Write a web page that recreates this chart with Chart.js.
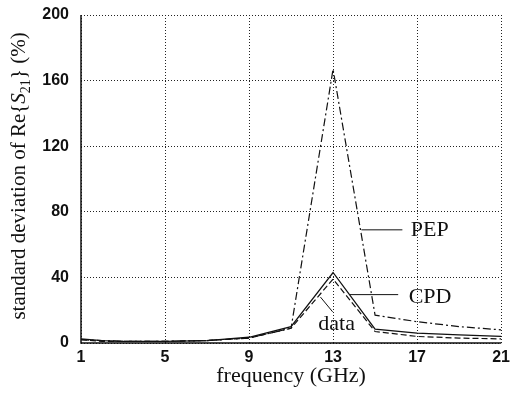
<!DOCTYPE html>
<html>
<head>
<meta charset="utf-8">
<script src="https://cdn.jsdelivr.net/npm/chart.js@4"></script>
<style>
  html, body { margin: 0; padding: 0; background: #fff; }
  #wrap { width: 515px; height: 393px; }
</style>
</head>
<body>
<div id="wrap"><canvas id="myChart" width="515" height="393"></canvas></div>
<script>
// frequency points (GHz) and curves
let freqs = [1, 2, 3, 5, 7, 9, 11, 13, 15, 17, 19, 21];
let pepValues = [2, 1.5, 1, 1, 1.5, 3, 9, 167, 17, 13, 10, 8];
let cpdValues = [2.5, 1.5, 1, 1, 1.5, 3.5, 10, 43, 8.5, 6, 5, 4];
let dataValues = [2, 1, 1, 1, 1.5, 3, 9, 39, 7, 4, 3, 2.5];

let xTicks = [1, 5, 9, 13, 17, 21];
let yTicks = [0, 40, 80, 120, 160, 200];

// curve labels with leader lines, in data units
let labels = [
    { text: 'PEP', at: [16.7, 65], from: [14.35, 69], to: [16.3, 69] },
    { text: 'CPD', at: [16.6, 24.5], from: [13.8, 29.5], to: [16.1, 29.5] },
    { text: 'data', at: [12.3, 8], from: [12.4, 28], to: [12.98, 19] }
];

function toPoints(values) {
    return freqs.map((f, i) => ({ x: f, y: values[i] }));
}

const serif = '"Liberation Serif", "Times New Roman", serif';
const sans = '"Liberation Sans", Arial, sans-serif';

let labelPlugin = {
    id: 'curveLabels',
    afterDraw(chart) {
        let ctx = chart.ctx;
        let xs = chart.scales.x, ys = chart.scales.y;
        let ca = chart.chartArea;
        ctx.save();
        ctx.strokeStyle = '#111';
        ctx.fillStyle = '#111';

        // solid left and bottom axis lines
        ctx.lineWidth = 1.5;
        ctx.beginPath();
        ctx.moveTo(ca.left, ca.top);
        ctx.lineTo(ca.left, ca.bottom);
        ctx.lineTo(ca.right, ca.bottom);
        ctx.stroke();

        ctx.lineWidth = 1;
        ctx.font = '22px ' + serif;
        ctx.textBaseline = 'alphabetic';
        labels.forEach(l => {
            ctx.beginPath();
            ctx.moveTo(xs.getPixelForValue(l.from[0]), ys.getPixelForValue(l.from[1]));
            ctx.lineTo(xs.getPixelForValue(l.to[0]), ys.getPixelForValue(l.to[1]));
            ctx.stroke();
            ctx.fillText(l.text, xs.getPixelForValue(l.at[0]), ys.getPixelForValue(l.at[1]));
        });

        // y axis title with italic S and subscript 21
        ctx.translate(25, (ca.top + ca.bottom) / 2 - 3);
        ctx.rotate(-Math.PI / 2);
        let parts = [
            { t: 'standard deviation of Re{', f: '21px ' + serif, dy: 0 },
            { t: 'S', f: 'italic 21px ' + serif, dy: 0 },
            { t: '21', f: '14px ' + serif, dy: 5 },
            { t: '} (%)', f: '21px ' + serif, dy: 0 }
        ];
        let total = 0;
        parts.forEach(p => { ctx.font = p.f; total += ctx.measureText(p.t).width; });
        let x = -total / 2;
        parts.forEach(p => {
            ctx.font = p.f;
            ctx.fillText(p.t, x, p.dy);
            x += ctx.measureText(p.t).width;
        });
        ctx.restore();
    }
};

let gridStyle = {
    color: '#222',
    lineWidth: 1,
    drawTicks: false
};

let ctx = document.getElementById('myChart').getContext('2d');
let myChart = new Chart(ctx, {
    type: 'line',
    data: {
        datasets: [
            {
                label: 'PEP',
                data: toPoints(pepValues),
                borderColor: '#111',
                borderWidth: 1.2,
                borderDash: [8, 3, 2, 3]
            },
            {
                label: 'CPD',
                data: toPoints(cpdValues),
                borderColor: '#111',
                borderWidth: 1.3
            },
            {
                label: 'data',
                data: toPoints(dataValues),
                borderColor: '#111',
                borderWidth: 1.2,
                borderDash: [6, 3]
            }
        ]
    },
    options: {
        responsive: false,
        animation: false,
        layout: { padding: { left: 0, right: 10, top: 15, bottom: 0 } },
        elements: { point: { radius: 0 }, line: { tension: 0 } },
        plugins: {
            legend: { display: false },
            tooltip: { enabled: false }
        },
        scales: {
            x: {
                type: 'linear',
                min: 1,
                max: 21,
                afterBuildTicks: axis => { axis.ticks = xTicks.map(v => ({ value: v })); },
                afterFit: axis => { axis.height = 50; },
                grid: gridStyle,
                border: { display: false, dash: [1, 2] },
                ticks: {
                    color: '#111',
                    padding: 5,
                    maxRotation: 0,
                    font: { family: sans, size: 16, weight: 'bold' }
                },
                title: {
                    display: true,
                    text: 'frequency (GHz)',
                    color: '#111',
                    padding: { top: 0 },
                    font: { family: serif, size: 22 }
                }
            },
            y: {
                min: 0,
                max: 200,
                afterBuildTicks: axis => { axis.ticks = yTicks.map(v => ({ value: v })); },
                afterFit: axis => {
                    axis.width = 81;
                    axis.paddingTop = 0;
                    axis.paddingBottom = 0;
                },
                grid: gridStyle,
                border: { display: false, dash: [1, 2] },
                ticks: {
                    color: '#111',
                    padding: 12,
                    font: { family: sans, size: 16, weight: 'bold' }
                }
            }
        }
    },
    plugins: [labelPlugin]
});
</script>
</body>
</html>
